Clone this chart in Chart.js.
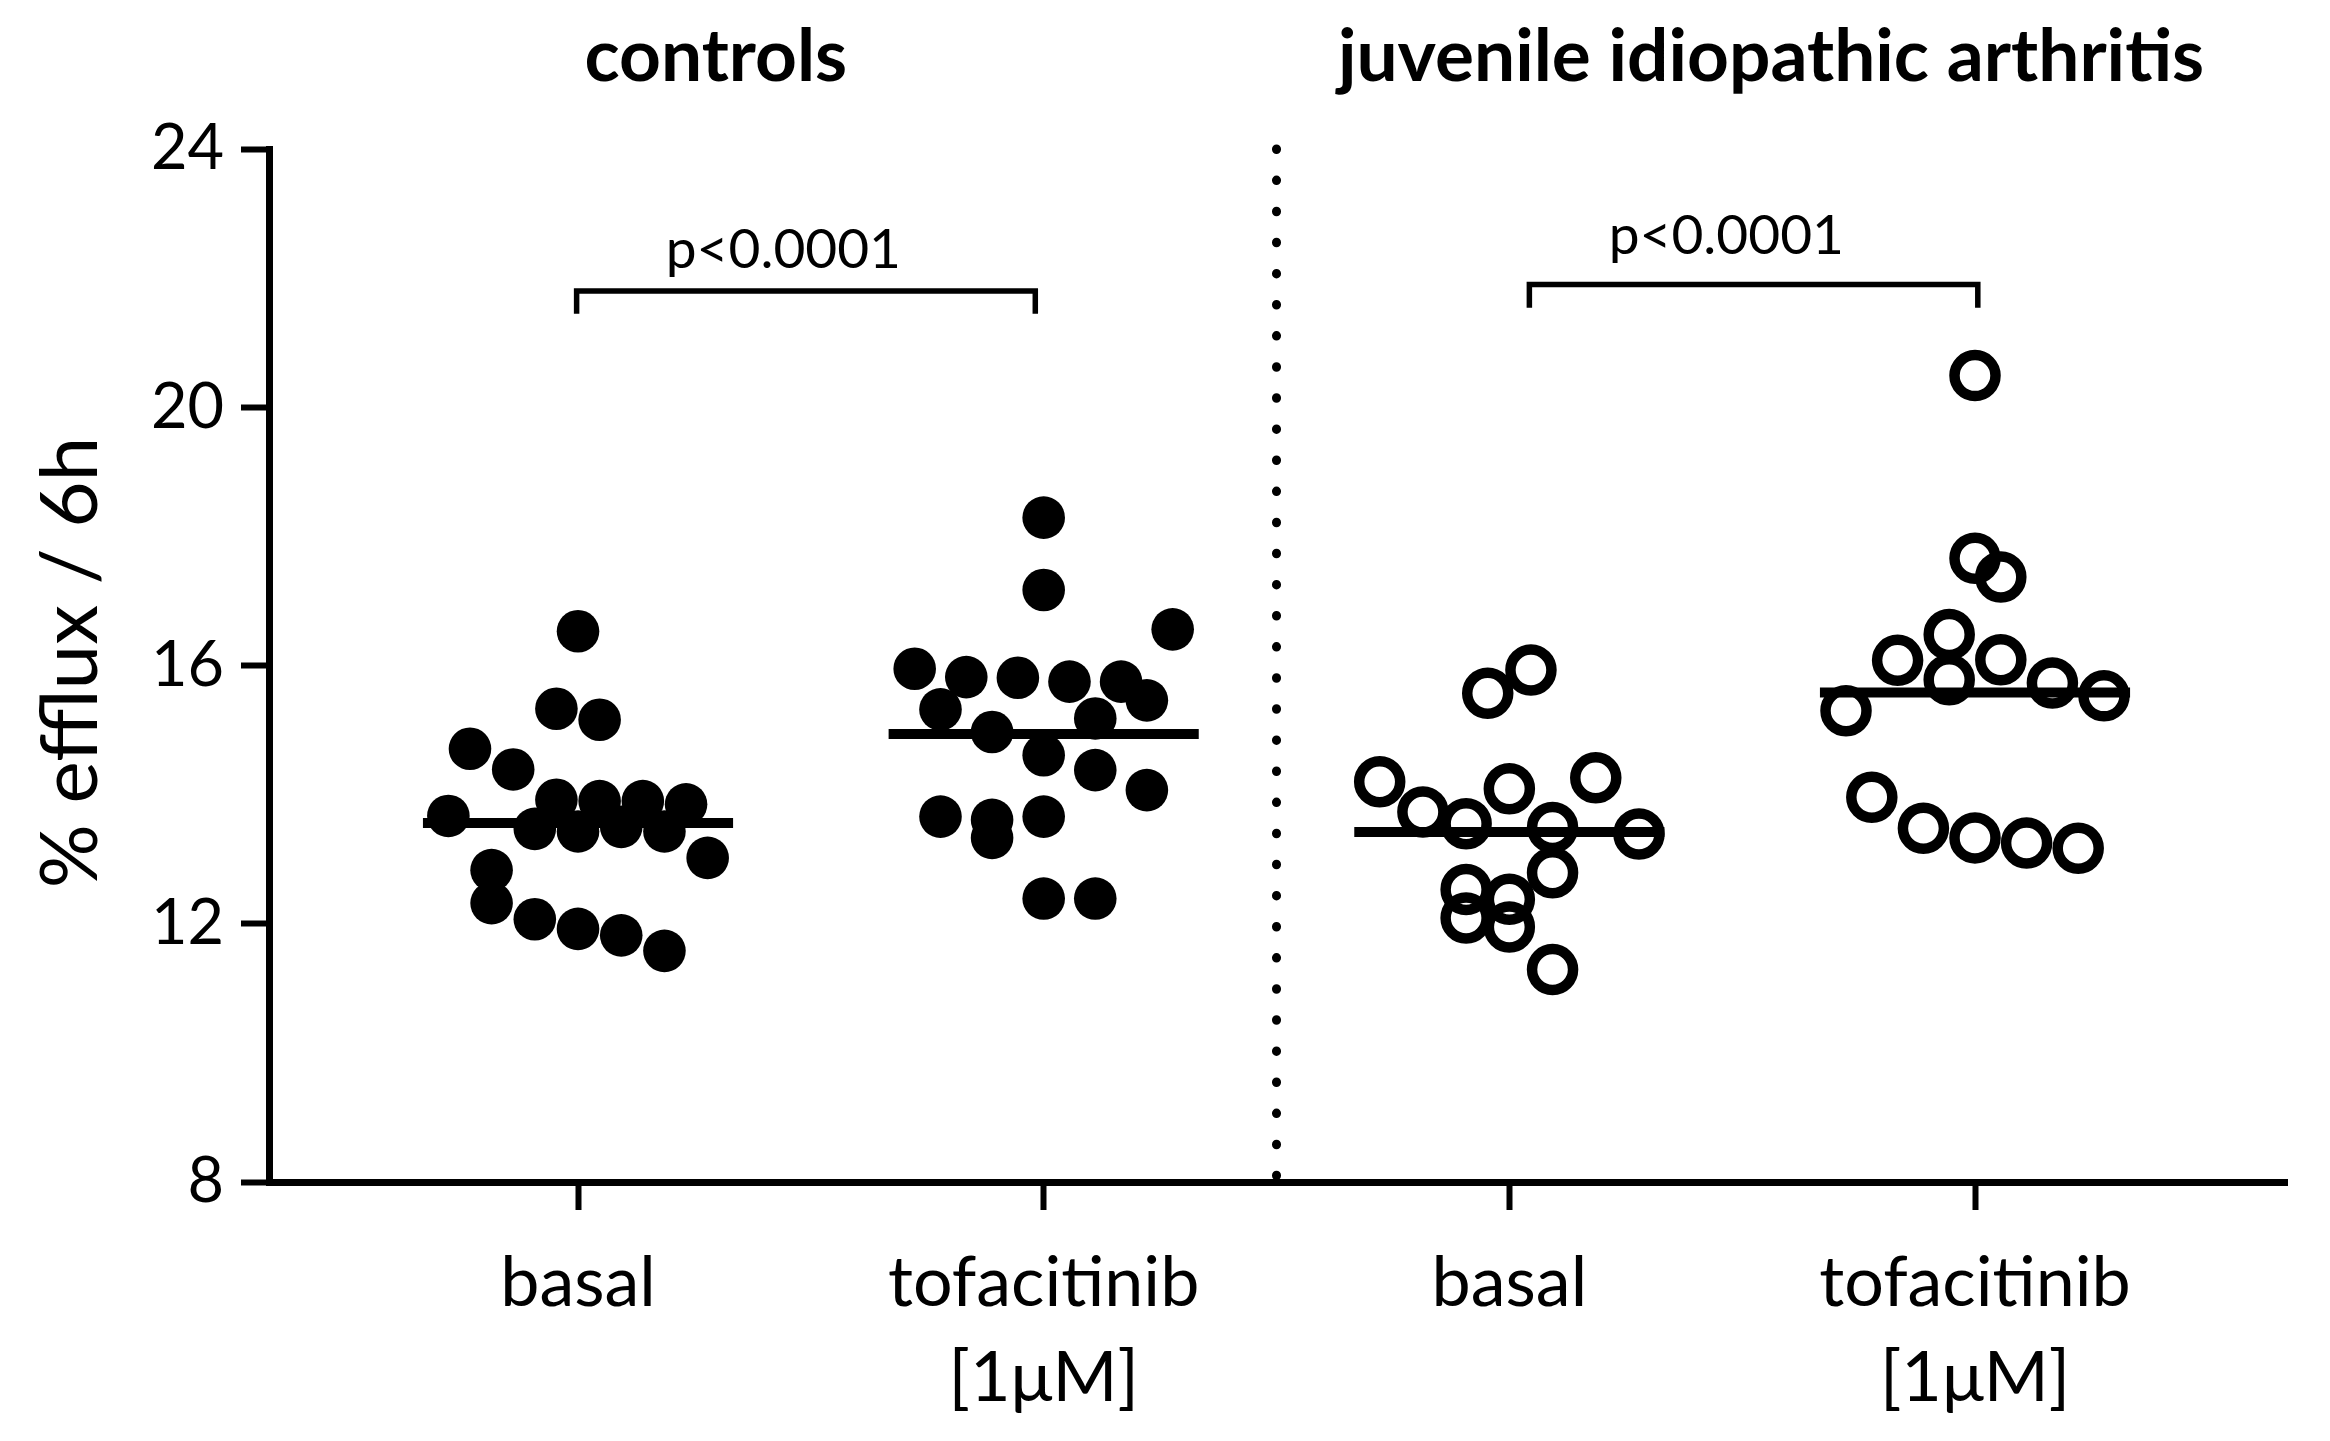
<!DOCTYPE html>
<html>
<head>
<meta charset="utf-8">
<script src="https://cdn.jsdelivr.net/npm/chart.js@4.4.0/dist/chart.umd.min.js"></script>
<style>
    html, body { margin: 0; padding: 0; background: #fff; }
    #wrap { width: 2330px; height: 1441px; }
</style>
</head>
<body>
<div id="wrap"><canvas id="effluxChart" width="2330" height="1441"></canvas></div>
<script>
// x positions of the four columns and their labels
const categories = [1, 2, 3, 4];
const categoryLabels = ['basal', ['tofacitinib', '[1\u03bcM]'], 'basal', ['tofacitinib', '[1\u03bcM]']];
const groupTitles = ['controls', 'juvenile idiopathic arthritis'];
const pValues = ['p<0.0001', 'p<0.0001'];
const yTicks = [8, 12, 16, 20, 24];

// % efflux / 6h per subject, and the scatter column each dot sits in
const controlsBasal = [16.53, 15.33, 15.16, 14.71, 14.39, 13.67, 13.92, 13.90, 13.90, 13.85, 13.47,
    13.43, 13.50, 13.43, 13.02, 12.83, 12.32, 12.07, 11.92, 11.82, 11.58];
const controlsBasalCol = [0, -1, 1, -5, -3, -6, -1, 1, 3, 5, -2, 0, 2, 4, 6, -4, -4, -2, 0, 2, 4];

const controlsTofa = [18.29, 17.17, 16.56, 15.95, 15.82, 15.81, 15.75, 15.75, 15.46, 15.32, 15.18,
    14.97, 14.61, 14.38, 14.07, 13.66, 13.61, 13.66, 13.33, 12.39, 12.39];
const controlsTofaCol = [0, 0, 5, -5, -3, -1, 1, 3, 4, -4, 2, -2, 0, 2, 4, -4, -2, 0, -2, 0, 2];

const jiaBasal = [15.93, 15.57, 14.20, 14.26, 14.09, 13.73, 13.55, 13.49, 13.39, 12.79, 12.53,
    12.38, 12.09, 11.95, 11.29];
const jiaBasalCol = [1, -1, -6, 4, 0, -4, -2, 2, 6, 2, -2, 0, -2, 0, 2];

const jiaTofa = [20.49, 17.66, 17.37, 16.48, 16.08, 16.09, 15.78, 15.73, 15.53, 15.30, 13.96,
    13.48, 13.33, 13.25, 13.17];
const jiaTofaCol = [0, 0, 1, -1, -3, 1, -1, 3, 5, -5, -4, -2, 0, 2, 4];

// group means (horizontal bars)
const groupMeans = [13.56, 14.94, 13.42, 15.58];

// layout bits
const colStep = [0.0464, 0.0554, 0.0464, 0.0554];
const meanHalf = 0.333;

function dots(values, cols, i) {
    return values.map((v, k) => ({ x: categories[i] + cols[k] * colStep[i], y: v }));
}

const filled = { pointStyle: 'circle', pointRadius: 21.3, pointBackgroundColor: '#000', pointBorderWidth: 0 };
const open = { pointStyle: 'circle', pointRadius: 20.5, pointBackgroundColor: 'rgba(0,0,0,0)',
    pointBorderColor: '#000', pointBorderWidth: 10.5 };
const line = (data, width, extra) => Object.assign({
    data, showLine: true, pointRadius: 0, borderColor: '#000', borderWidth: width, clip: false
}, extra || {});

const meanLines = groupMeans.map((m, i) =>
    line([{ x: categories[i] - meanHalf, y: m }, { x: categories[i] + meanHalf, y: m }], 10));

const bracketLines = [
    line([{ x: 0.997, y: 21.45 }, { x: 0.997, y: 21.80 }, { x: 1.982, y: 21.80 }, { x: 1.982, y: 21.45 }], 5.5,
        { borderJoinStyle: 'miter' }),
    line([{ x: 3.043, y: 21.54 }, { x: 3.043, y: 21.90 }, { x: 4.006, y: 21.90 }, { x: 4.006, y: 21.54 }], 5.5,
        { borderJoinStyle: 'miter' })
];

const divider = line([{ x: 2.5, y: 24 }, { x: 2.5, y: 8 }], 9,
    { borderDash: [0.5, 30.6], borderCapStyle: 'round' });

// titles, p values and the y axis title
const annotations = {
    id: 'annotations',
    afterDatasetsDraw(chart) {
        const { ctx, scales: { x, y } } = chart;
        ctx.save();
        ctx.fillStyle = '#000';
        ctx.textAlign = 'center';
        ctx.textBaseline = 'alphabetic';

        ctx.font = 'bold 73px Lato';
        ctx.fillText(groupTitles[0], x.getPixelForValue(1.296), 81);
        ctx.fillText(groupTitles[1], x.getPixelForValue(3.562), 81);

        ctx.font = '55px Lato';
        ctx.fillText(pValues[0], x.getPixelForValue(1.441), y.getPixelForValue(22.16));
        ctx.fillText(pValues[1], x.getPixelForValue(3.466), y.getPixelForValue(22.38));

        ctx.font = '80px Lato';
        ctx.translate(97, (y.top + y.bottom) / 2 - 3);
        ctx.rotate(-Math.PI / 2);
        ctx.fillText('% efflux / 6h', 0, 0);
        ctx.restore();
    }
};

const ctx = document.getElementById('effluxChart').getContext('2d');
new Chart(ctx, {
    type: 'scatter',
    data: {
        datasets: [
            Object.assign({ data: dots(controlsBasal, controlsBasalCol, 0) }, filled),
            Object.assign({ data: dots(controlsTofa, controlsTofaCol, 1) }, filled),
            Object.assign({ data: dots(jiaBasal, jiaBasalCol, 2) }, open),
            Object.assign({ data: dots(jiaTofa, jiaTofaCol, 3) }, open),
            ...meanLines,
            ...bracketLines,
            divider
        ]
    },
    options: {
        responsive: false,
        animation: false,
        devicePixelRatio: 1,
        events: [],
        layout: { padding: { top: 149, right: 43, left: 0, bottom: 0 } },
        plugins: {
            legend: { display: false },
            tooltip: { enabled: false }
        },
        scales: {
            x: {
                type: 'linear',
                min: 0.3364,
                max: 4.670,
                afterBuildTicks: (scale) => { scale.ticks = categories.map(v => ({ value: v })); },
                afterFit: (scale) => { scale.height = 259; },
                ticks: {
                    autoSkip: false,
                    maxRotation: 0,
                    padding: 26,
                    color: '#000',
                    font: { family: 'Lato', size: 70, lineHeight: 1.36 },
                    callback: (value) => categoryLabels[categories.indexOf(value)]
                },
                grid: { display: true, drawOnChartArea: false, drawTicks: true, tickLength: 28, tickWidth: 6, tickColor: '#000' },
                border: { display: true, color: '#000', width: 7 }
            },
            y: {
                min: 8,
                max: 24,
                afterBuildTicks: (scale) => { scale.ticks = yTicks.map(v => ({ value: v })); },
                afterFit: (scale) => { scale.width = 269; },
                ticks: {
                    padding: 17,
                    color: '#000',
                    font: { family: 'Lato', size: 63 }
                },
                grid: { display: true, drawOnChartArea: false, drawTicks: true, tickLength: 28, tickWidth: 6, tickColor: '#000' },
                border: { display: true, color: '#000', width: 7 }
            }
        }
    },
    plugins: [annotations]
});
</script>
</body>
</html>
